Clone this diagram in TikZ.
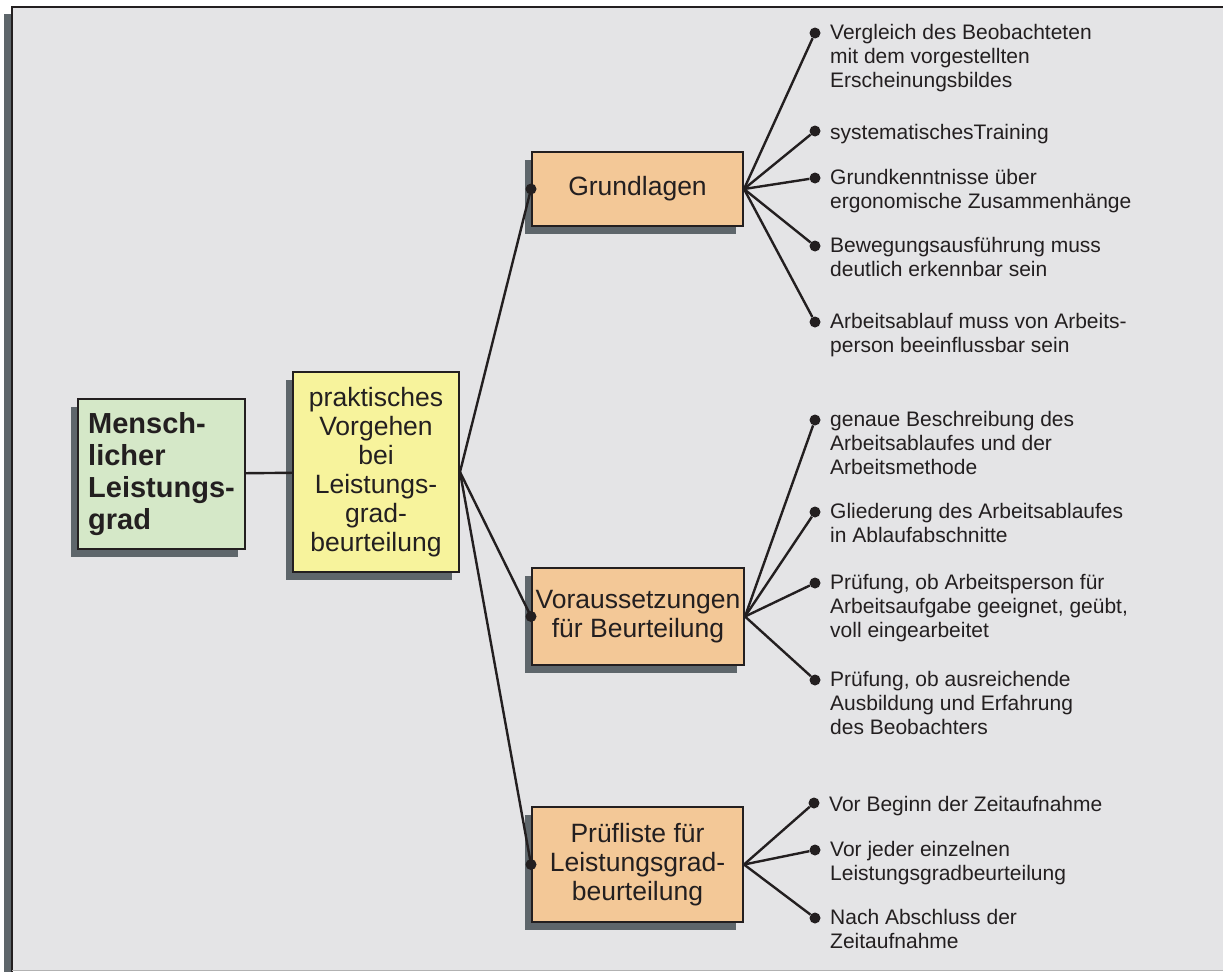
\documentclass[tikz,border=0pt]{standalone}
\usepackage{fontspec}
\setmainfont{Liberation Sans}
\usepackage{tikz}
\usetikzlibrary{shadows,positioning}
\definecolor{bggray}{HTML}{E4E4E6}
\definecolor{shadowgray}{HTML}{5E666B}
\definecolor{linecol}{HTML}{231F20}
\definecolor{rootgreen}{HTML}{D5E8C8}
\definecolor{stepyellow}{HTML}{F7F39C}
\definecolor{topicorange}{HTML}{F3C897}

\begin{document}
\begin{tikzpicture}[x=1pt, y=-1pt,
  box/.style={draw=linecol, line width=2pt, inner sep=0pt, align=center, text=linecol, font=\fontsize{26.5}{29}\selectfont, drop shadow={shadow xshift=-7pt, shadow yshift=-8pt, fill=shadowgray, opacity=1}},
  dot/.style={circle, fill=linecol, inner sep=0pt, minimum size=11pt},
  leaf/.style={anchor=north west, inner sep=0pt, align=left, xshift=15pt, yshift=9pt, text=linecol, font=\fontsize{21}{24}\selectfont, execute at begin node=\strut},
  link/.style={draw=linecol, line width=2.4pt}]
\useasboundingbox (0,0) rectangle (1223,972);
\fill[shadowgray] (4,14) rectangle (11,972);
\fill[bggray] (11,6) rectangle (1223,971);
\draw[linecol, line width=2.2pt] (12,972) -- (12,7) -- (1223,7);
\draw[black!30, line width=1.5pt] (12,970.5) -- (1223,970.5);

\node[box, fill=rootgreen, minimum width=167pt, minimum height=150pt, align=left, font=\fontsize{29}{32}\selectfont\bfseries] (root) at (161.5,474) {Mensch-\\licher\\Leistungs-\\grad};
\node[box, fill=stepyellow, minimum width=166pt, minimum height=200pt] (vorgehen) at (376,472) {praktisches\\Vorgehen\\bei\\Leistungs-\\grad-\\beurteilung};
\node[box, fill=topicorange, minimum width=211pt, minimum height=74pt] (grund) at (637.5,189) {Grundlagen};
\node[box, fill=topicorange, minimum width=212pt, minimum height=97pt] (vor) at (638,616.5) {Voraussetzungen\\f\"ur Beurteilung};
\node[box, fill=topicorange, minimum width=211pt, minimum height=115pt] (pruef) at (637.5,864.5) {Pr\"ufliste f\"ur\\Leistungsgrad-\\beurteilung};

\draw[link] (root) -- (vorgehen);
\draw[link] (vorgehen.east) -- (grund.west);
\draw[link] (vorgehen.east) -- (vor.west);
\draw[link] (vorgehen.east) -- (pruef.west);
\node[dot] (grundin) at (grund.west) {};
\node[dot] (vorin) at (vor.west) {};
\node[dot] (pruefin) at (pruef.west) {};

\node[dot] (g1) at (815,33) {};
\node[dot] (g2) at (815,131) {};
\node[dot] (g3) at (815,178) {};
\node[dot] (g4) at (815,246) {};
\node[dot] (g5) at (815,322) {};
\node[leaf] (g1t) at (g1) {Vergleich des Beobachteten\\mit dem vorgestellten\\Erscheinungsbildes};
\node[leaf] (g2t) at (g2) {systematischesTraining};
\node[leaf] (g3t) at (g3) {Grundkenntnisse \"uber\\ergonomische Zusammenh\"ange};
\node[leaf] (g4t) at (g4) {Bewegungsausf\"uhrung muss\\deutlich erkennbar sein};
\node[leaf] (g5t) at (g5) {Arbeitsablauf muss von Arbeits-\\person beeinflussbar sein};
\draw[link] (grund.east) -- (g1);
\draw[link] (grund.east) -- (g2);
\draw[link] (grund.east) -- (g3);
\draw[link] (grund.east) -- (g4);
\draw[link] (grund.east) -- (g5);

\node[dot] (v1) at (815,420) {};
\node[dot] (v2) at (815,512) {};
\node[dot] (v3) at (815,583) {};
\node[dot] (v4) at (815,680) {};
\node[leaf] (v1t) at (v1) {genaue Beschreibung des\\Arbeitsablaufes und der\\Arbeitsmethode};
\node[leaf] (v2t) at (v2) {Gliederung des Arbeitsablaufes\\in Ablaufabschnitte};
\node[leaf] (v3t) at (v3) {Pr\"ufung, ob Arbeitsperson f\"ur\\Arbeitsaufgabe geeignet, ge\"ubt,\\voll eingearbeitet};
\node[leaf] (v4t) at (v4) {Pr\"ufung, ob ausreichende\\Ausbildung und Erfahrung\\des Beobachters};
\draw[link] (vor.east) -- (v1);
\draw[link] (vor.east) -- (v2);
\draw[link] (vor.east) -- (v3);
\draw[link] (vor.east) -- (v4);

\node[dot] (p1) at (814,803) {};
\node[dot] (p2) at (815,850) {};
\node[dot] (p3) at (815,918) {};
\node[leaf] (p1t) at (p1) {Vor Beginn der Zeitaufnahme};
\node[leaf] (p2t) at (p2) {Vor jeder einzelnen\\Leistungsgradbeurteilung};
\node[leaf] (p3t) at (p3) {Nach Abschluss der\\Zeitaufnahme};
\draw[link] (pruef.east) -- (p1);
\draw[link] (pruef.east) -- (p2);
\draw[link] (pruef.east) -- (p3);
\end{tikzpicture}
\end{document}
